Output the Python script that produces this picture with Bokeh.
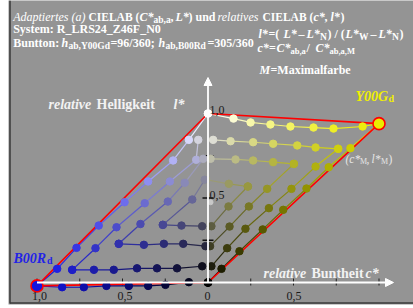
from bokeh.plotting import figure
from bokeh.models import Label, Range1d, Arrow, NormalHead
from bokeh.embed import file_html
from bokeh.resources import INLINE

# ---------------- data (relative chroma c*, relative lightness l*) ----------------
# Yellow side (hue Y00Gd): concentric triangles k=0..3, W-edge (from white/grey) and N-edge (from black/grey)
Y0W_c = [0.0, 0.149, 0.249, 0.365, 0.482, 0.617, 0.734, 0.904, 1.0]
Y0W_l = [1.0, 0.970, 0.947, 0.935, 0.923, 0.917, 0.911, 0.923, 0.94]
Y0N_c = [0.0, 0.079, 0.184, 0.320, 0.440, 0.576, 0.706, 0.833, 1.0]
Y0N_l = [0.0, 0.081, 0.185, 0.314, 0.430, 0.556, 0.682, 0.795, 0.94]
Y1W_c = [0.030, 0.132, 0.264, 0.381, 0.522, 0.629, 0.761]
Y1W_l = [0.844, 0.836, 0.830, 0.821, 0.811, 0.799, 0.791]
Y1N_c = [0.020, 0.112, 0.219, 0.356, 0.488, 0.629, 0.761]
Y1N_l = [0.096, 0.203, 0.318, 0.440, 0.554, 0.686, 0.791]
Y2W_c = [0.015, 0.161, 0.264, 0.381, 0.502]
Y2W_l = [0.732, 0.728, 0.722, 0.712, 0.702]
Y2N_c = [0.012, 0.126, 0.239, 0.346, 0.502]
Y2N_l = [0.215, 0.331, 0.450, 0.554, 0.702]
Y3W_c = [-0.010, 0.122, 0.233]
Y3W_l = [0.608, 0.584, 0.568]
Y3N_c = [0.020, 0.120, 0.233]
Y3N_l = [0.333, 0.450, 0.568]
Y4_c = [0.015]
Y4_l = [0.475]

# Blue side (hue B00Rd)
B0W_c = [0.0, -0.112, -0.204, -0.350, -0.488, -0.639, -0.769, -0.882, -1.0]
B0W_l = [1.0, 0.844, 0.722, 0.598, 0.475, 0.337, 0.205, 0.081, -0.02]
B0N_c = [0.0, -0.112, -0.249, -0.350, -0.463, -0.594, -0.726, -0.853, -1.0]
B0N_l = [0.0, 0.002, -0.014, -0.020, -0.020, -0.020, -0.028, -0.028, -0.02]
B1W_c = [-0.057, -0.069, -0.223, -0.370, -0.535, -0.658, -0.794]
B1W_l = [0.844, 0.726, 0.598, 0.469, 0.327, 0.203, 0.075]
B1N_c = [-0.034, -0.181, -0.298, -0.415, -0.551, -0.667, -0.794]
B1N_l = [0.096, 0.084, 0.084, 0.084, 0.075, 0.075, 0.075]
B2W_c = [-0.028, -0.136, -0.235, -0.395, -0.522]
B2W_l = [0.732, 0.590, 0.479, 0.346, 0.229]
B2N_c = [-0.015, -0.145, -0.258, -0.375, -0.522]
B2N_l = [0.215, 0.229, 0.229, 0.223, 0.229]
B3W_c = [-0.019, -0.092, -0.264]
B3W_l = [0.608, 0.491, 0.341]
B3N_c = [-0.034, -0.155, -0.264]
B3N_l = [0.333, 0.337, 0.341]

X_TICKS = [-1.0, -0.75, -0.5, -0.25, 0.25, 0.5, 0.75, 1.0]
Y_TICKS = [0.25, 0.5, 0.75]
X_TICK_LABELS = {-1.0: "1,0", -0.5: "0,5", 0.0: "0", 0.5: "0,5"}
Y_TICK_LABELS = {1.0: "1,0", 0.5: "0,5"}

M_YELLOW = (235, 235, 0)
M_BLUE = (20, 20, 225)

# ---------------- geometry helpers (page pixels -> data) ----------------
X0, Y0, SX, SY = 207.5, 282.0, 171.0, 169.0
def cx(px):
    return (px - X0) / SX
def ly(py):
    return (Y0 - py) / SY

BG = "#949494"
FONT = "Liberation Serif"

p = figure(width=413, height=308, output_backend="svg", toolbar_location=None,
           x_range=Range1d(cx(8), cx(413)), y_range=Range1d(ly(304), ly(0)),
           x_axis_location=None, y_axis_location=None,
           min_border_left=8, min_border_right=0, min_border_top=0, min_border_bottom=4,
           background_fill_color=BG, border_fill_color="white",
           outline_line_color=None)
p.grid.visible = False

# frame lines (left and bottom)
p.segment(x0=[cx(9.5)], y0=[ly(0)], x1=[cx(9.5)], y1=[ly(303)], line_color="#3a3a3a", line_width=1.5)
p.segment(x0=[cx(9.5)], y0=[ly(302.5)], x1=[cx(413)], y1=[ly(302.5)], line_color="#3a3a3a", line_width=1.5)

# axes
p.add_layout(Arrow(end=NormalHead(size=8, fill_color="white", line_color="white"),
                   x_start=-1.0, y_start=0.0, x_end=cx(393), y_end=0.0,
                   line_color="white", line_width=1.8))
p.add_layout(Arrow(end=NormalHead(size=8, fill_color="white", line_color="white"),
                   x_start=0.0, y_start=0.0, x_end=0.0, y_end=ly(77),
                   line_color="white", line_width=1.8))
p.segment(x0=X_TICKS, y0=[ly(278)] * len(X_TICKS), x1=X_TICKS, y1=[ly(285)] * len(X_TICKS),
          line_color="#202020", line_width=1)
p.segment(x0=[cx(202)] * len(Y_TICKS), y0=Y_TICKS, x1=[cx(213)] * len(Y_TICKS), y1=Y_TICKS,
          line_color="#101010", line_width=1.5)


def mix(wh, ch, M):
    bk = max(0.0, 1.0 - wh - ch)
    wh_e = wh ** 1.4
    ch_e = max(0.0, 1.0 - wh_e - bk)
    return "#%02x%02x%02x" % tuple(int(round(max(0, min(255, wh_e * 255 + ch_e * m)))) for m in M)


def edge_colors(n_pts, k, kind, M):
    cols = []
    for t in range(n_pts):
        ch = t / 8.0
        if kind == "W":
            wh = 1 - ch - k / 8.0
        else:
            wh = k / 8.0
        cols.append(mix(wh, ch, M))
    return cols


def hexavg(a, b):
    ra = [int(a[i:i + 2], 16) for i in (1, 3, 5)]
    rb = [int(b[i:i + 2], 16) for i in (1, 3, 5)]
    return "#%02x%02x%02x" % tuple((x + y) // 2 for x, y in zip(ra, rb))


edges = [
    (Y0W_c, Y0W_l, 0, "W", M_YELLOW), (Y0N_c, Y0N_l, 0, "N", M_YELLOW),
    (Y1W_c, Y1W_l, 1, "W", M_YELLOW), (Y1N_c, Y1N_l, 1, "N", M_YELLOW),
    (Y2W_c, Y2W_l, 2, "W", M_YELLOW), (Y2N_c, Y2N_l, 2, "N", M_YELLOW),
    (Y3W_c, Y3W_l, 3, "W", M_YELLOW), (Y3N_c, Y3N_l, 3, "N", M_YELLOW),
    (B0W_c, B0W_l, 0, "W", M_BLUE), (B0N_c, B0N_l, 0, "N", M_BLUE),
    (B1W_c, B1W_l, 1, "W", M_BLUE), (B1N_c, B1N_l, 1, "N", M_BLUE),
    (B2W_c, B2W_l, 2, "W", M_BLUE), (B2N_c, B2N_l, 2, "N", M_BLUE),
    (B3W_c, B3W_l, 3, "W", M_BLUE), (B3N_c, B3N_l, 3, "N", M_BLUE),
]

sx0, sy0, sx1, sy1, scol = [], [], [], [], []
px_, py_, pcol = [], [], []
for cs, ls, k, kind, M in edges:
    cols = edge_colors(len(cs), k, kind, M)
    for i in range(len(cs) - 1):
        sx0.append(cs[i]); sy0.append(ls[i]); sx1.append(cs[i + 1]); sy1.append(ls[i + 1])
        scol.append(hexavg(cols[i], cols[i + 1]))
    px_ += cs; py_ += ls; pcol += cols

p.segment(x0=sx0, y0=sy0, x1=sx1, y1=sy1, line_color=scol, line_width=1.2)

# red outline of the two hue triangles
for M_c, M_l in ((Y0W_c[-1], Y0W_l[-1]), (B0W_c[-1], B0W_l[-1])):
    p.line([Y0W_c[0], M_c, Y0N_c[0]], [Y0W_l[0], M_l, Y0N_l[0]], line_color="#ff0000", line_width=1.6)

p.scatter(px_, py_, size=7.5, fill_color=pcol, line_color=pcol)
p.scatter(Y4_c, Y4_l, size=5, fill_color="#c8c8c8", line_color="#c8c8c8")
p.scatter([Y0W_c[0]], [Y0W_l[0]], size=7, fill_color="white", line_color="white")
p.scatter([Y0N_c[0]], [Y0N_l[0]], size=8, fill_color="black", line_color="black")
p.scatter([Y0W_c[-1]], [Y0W_l[-1]], size=12, fill_color=mix(0, 1, M_YELLOW), line_color="#ff0000", line_width=1.6)
p.scatter([B0W_c[-1]], [B0W_l[-1]], size=12, fill_color=mix(0, 1, M_BLUE), line_color="#ff0000", line_width=1.6)


def put(px, py, text, style="bold", size=12, color="white", align="left"):
    p.add_layout(Label(x=cx(px), y=ly(py), text=text, text_font=FONT,
                       text_font_size=f"{size}px", text_font_style=style,
                       text_color=color, text_align=align, text_baseline="alphabetic"))


# tick labels
TK = "#1a1a1a"
put(39, 295, X_TICK_LABELS[-1.0], "normal", 12, TK, "center")
put(124.5, 295, X_TICK_LABELS[-0.5], "normal", 12, TK, "center")
put(207, 295, X_TICK_LABELS[0.0], "normal", 12, TK, "center")
put(293.5, 295, X_TICK_LABELS[0.5], "normal", 12, TK, "center")
put(209, 109.5, Y_TICK_LABELS[1.0], "normal", 12, TK)
put(209, 194, Y_TICK_LABELS[0.5], "normal", 12, TK)

# title block
put(12.7, 16.5, "Adaptiertes (a)", "italic")
put(88, 16.5, "CIELAB (", "bold", 11.5)
put(139, 16.5, "C*", "bold italic")
put(153, 19.5, "ab,a", "bold", 9.5)
put(170, 16.5, ",", "bold")
put(175, 16.5, "L*", "bold italic")
put(188, 16.5, ") und", "bold")
put(217, 16.5, "relatives", "italic")
put(262, 16.5, "CIELAB (", "bold", 11.5)
put(313, 16.5, "c*", "bold italic")
put(324, 16.5, ",", "bold")
put(330, 16.5, "l*", "bold italic")
put(340, 16.5, ")", "bold")

put(12.7, 28.5, "System: R_LRS24_Z46F_N0", "bold")

put(12.7, 42, "Buntton:", "bold")
put(61, 42, "h", "bold italic")
put(68, 45, "ab,Y00Gd", "bold", 9.5)
put(110, 42, "=96/360;", "bold")
put(158, 42, "h", "bold italic")
put(165, 45, "ab,B00Rd", "bold", 9.5)
put(207, 42, "=305/360", "bold")

put(258, 33, "l*", "bold italic")
put(268, 33, "=(", "bold")
put(283, 33, "L*", "bold italic")
put(298, 33, "\u2013", "bold")
put(306, 33, "L*", "bold italic")
put(319.5, 36, "N", "bold", 9.5)
put(327, 33, ") / (", "bold")
put(345, 33, "L*", "bold italic")
put(358.5, 36, "W", "bold", 9.5)
put(370, 33, "\u2013", "bold")
put(378, 33, "L*", "bold italic")
put(391.5, 36, "N", "bold", 9.5)
put(399, 33, ")", "bold")

put(257, 47, "c*", "bold italic")
put(268.5, 47, "=", "bold")
put(276, 47, "C*", "bold italic")
put(290, 50, "ab,a", "bold", 8.5)
put(306, 47, "/", "bold")
put(315, 47, "C*", "bold italic")
put(329, 50, "ab,a,M", "bold", 8.5)

put(259, 69, "M", "bold italic")
put(270, 69, "=Maximalfarbe", "bold")

# in-plot labels
LG = "#f2f2f2"
put(48, 104, "relative", "bold italic", 14, LG)
put(96, 104, "Helligkeit", "bold", 14, LG)
put(173, 104, "l*", "bold italic", 14, LG)

put(263, 272.5, "relative", "bold italic", 14, LG)
put(311, 272.5, "Buntheit", "bold", 14, LG)
put(365, 272.5, "c*", "bold italic", 14, LG)

put(355, 95.5, "Y00G", "bold italic", 14, "#f0f000")
put(388, 98, "d", "bold", 10, "#f0f000")
put(13, 257.5, "B00R", "bold italic", 14, "#2323e6")
put(46.5, 260, "d", "bold", 10, "#2323e6")

CL = "#e6e6e6"
put(345, 158, "(c*", "italic", 11.5, CL)
put(359.5, 161, "M", "normal", 8, CL)
put(366, 158, ",", "normal", 11.5, CL)
put(371, 158, "l*", "italic", 11.5, CL)
put(380.5, 161, "M", "normal", 8, CL)
put(388, 158, ")", "normal", 11.5, CL)

open("out.html", "w").write(file_html(p, INLINE))
